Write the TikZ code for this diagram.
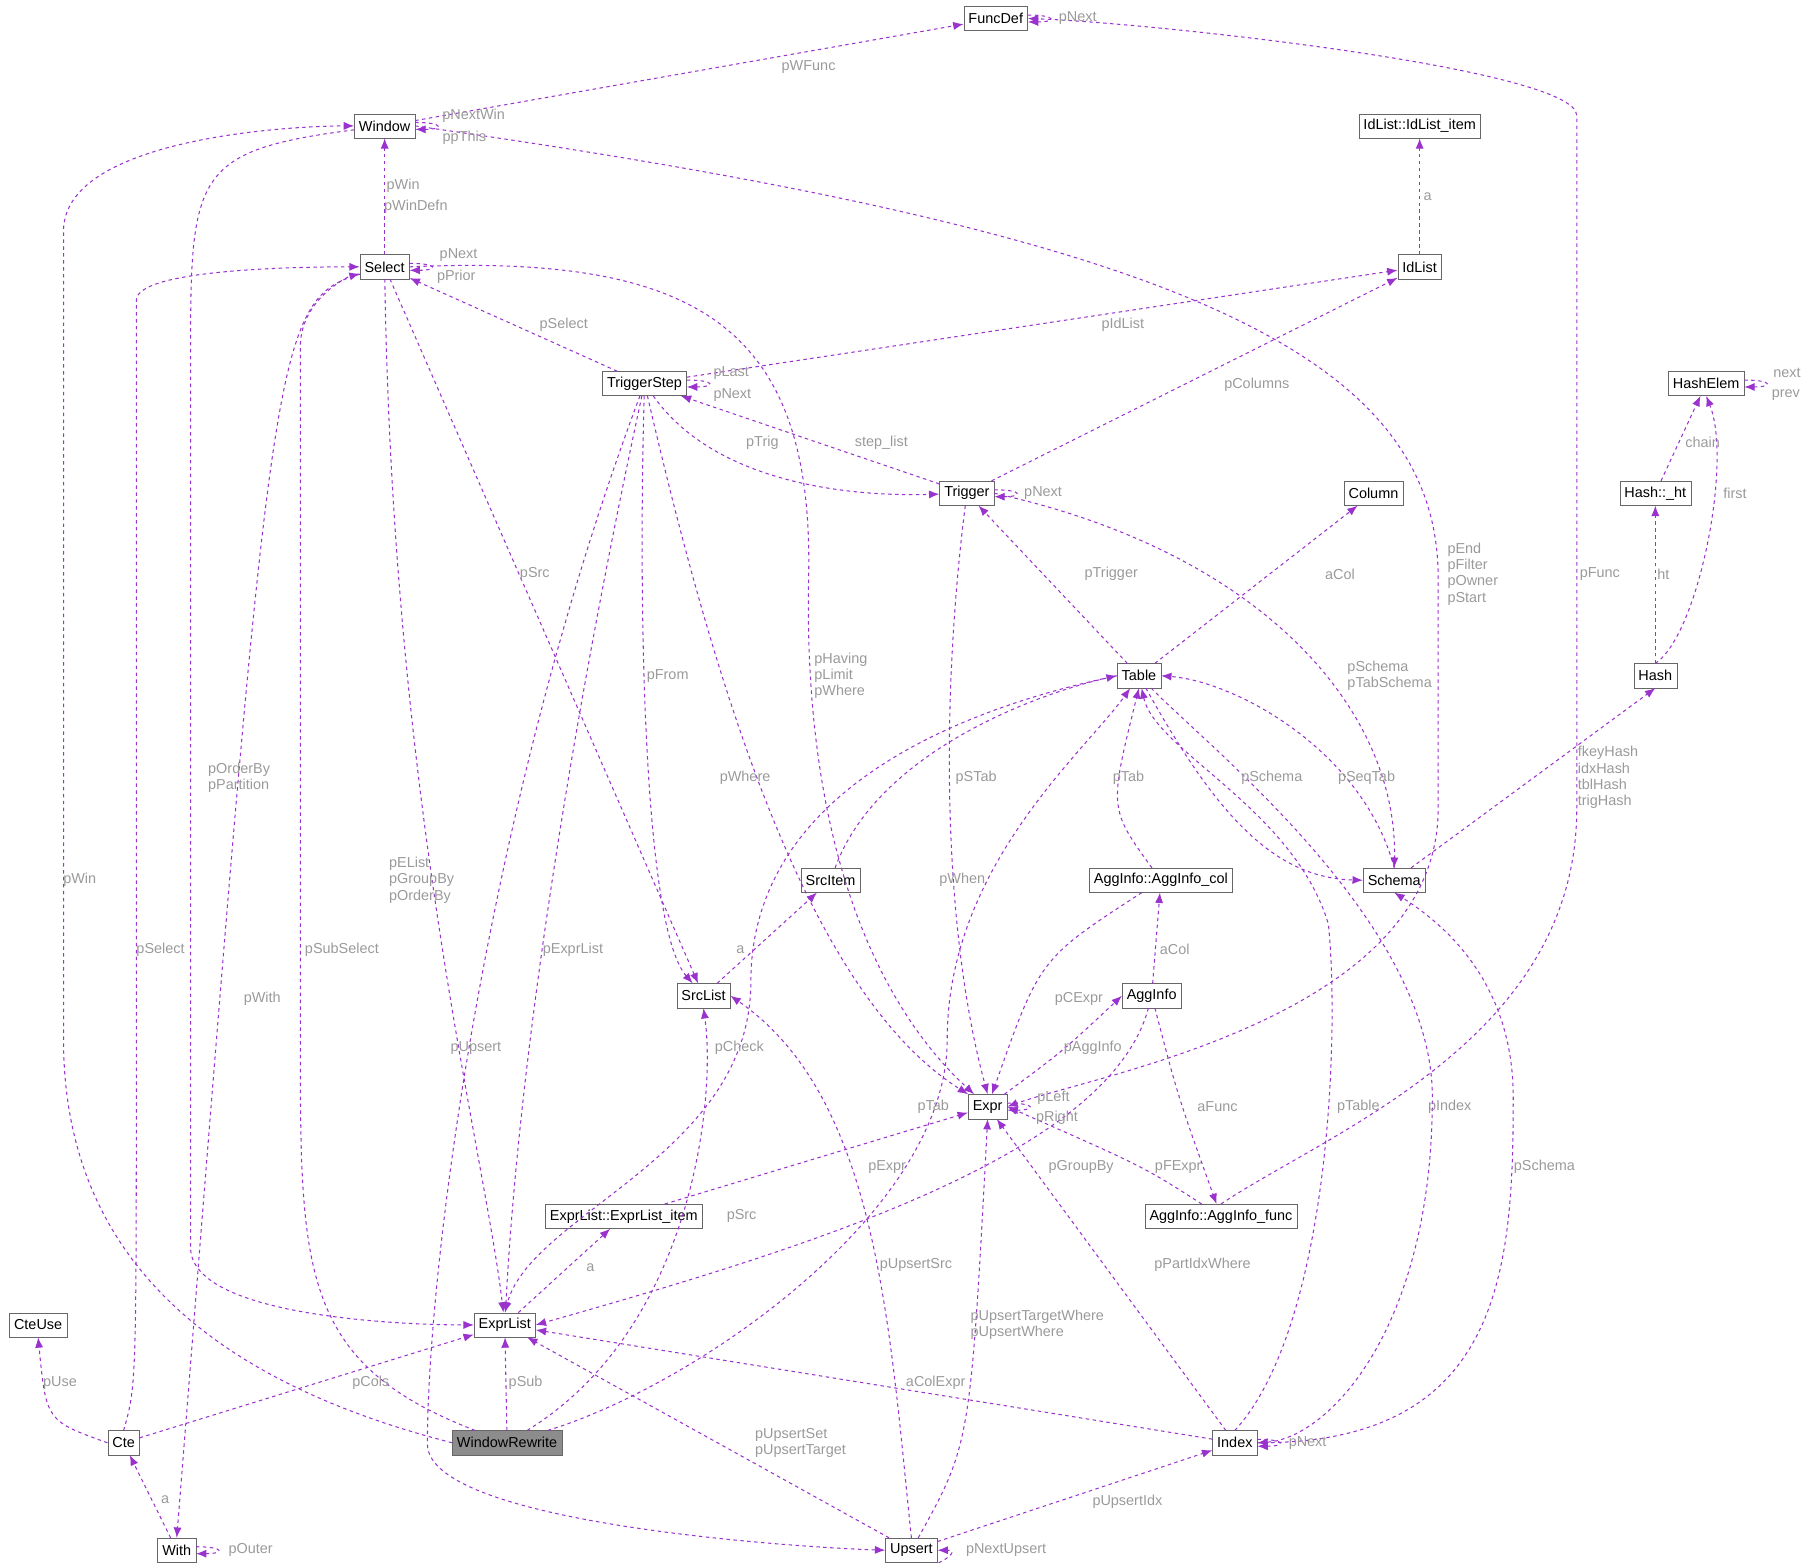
\documentclass[tikz,border=0pt]{standalone}
\usepackage{fontspec}
\setmainfont{Liberation Sans}
\usetikzlibrary{arrows.meta}
\tikzset{>={Latex[length=9pt,width=7pt]}}
\definecolor{relc}{HTML}{9A32CD}
\definecolor{lblc}{HTML}{9A9A9A}
\begin{document}
\begin{tikzpicture}[x=1pt,y=-1pt,
    every node/.style={font=\fontsize{12.5}{14}\selectfont},
    cls/.style={draw=black!60, fill=white, rectangle, inner sep=4pt, minimum height=21pt, text=black},
    rel/.style={->, dashed, relc, line width=0.9pt},
    lbl/.style={text=lblc, inner sep=1pt}]
    \useasboundingbox (0,0) rectangle (1560,1353);
    % Nodes
    \node[cls] (funcdef) at (862,16) {FuncDef};
    \node[cls] (win) at (333,109) {Window};
    \node[cls] (idlistitem) at (1229,109) {IdList::IdList\_item};
    \node[cls] (sel) at (333,231) {Select};
    \node[cls] (idlist) at (1229,231) {IdList};
    \node[cls] (tstep) at (558,332) {TriggerStep};
    \node[cls] (hashelem) at (1477,332) {HashElem};
    \node[cls] (trig) at (837,427) {Trigger};
    \node[cls] (col) at (1189,427) {Column};
    \node[cls] (htab) at (1433,427) {Hash::\_ht};
    \node[cls] (tab) at (986,585) {Table};
    \node[cls] (hash) at (1433,585) {Hash};
    \node[cls] (srcitem) at (719,762) {SrcItem};
    \node[cls] (aggcol) at (1005,762) {AggInfo::AggInfo\_col};
    \node[cls] (schema) at (1207,762) {Schema};
    \node[cls] (srclist) at (609,862) {SrcList};
    \node[cls] (agginfo) at (997,862) {AggInfo};
    \node[cls] (expr) at (855,958) {Expr};
    \node[cls] (elitem) at (540,1053) {ExprList::ExprList\_item};
    \node[cls] (aggfunc) at (1057,1053) {AggInfo::AggInfo\_func};
    \node[cls] (cteuse) at (33,1147) {CteUse};
    \node[cls] (elist) at (437,1147) {ExprList};
    \node[cls] (cte) at (107,1249) {Cte};
    \node[cls, fill=black!45] (winrw) at (439,1249) {WindowRewrite};
    \node[cls] (idx) at (1069,1249) {Index};
    \node[cls] (with) at (153,1342) {With};
    \node[cls] (upsert) at (789,1342) {Upsert};

    % Connectors
    \draw[rel] (win) -- (funcdef);
    \draw[rel] ([yshift=3pt]funcdef.east) .. controls +(25,0) and +(25,0) .. ([yshift=-3pt]funcdef.east);
    \draw[rel] ([yshift=3pt]win.east) .. controls +(25,0) and +(25,0) .. ([yshift=-3pt]win.east);
    \draw[rel] (sel) -- (win);
    \draw[rel] ([yshift=3pt]sel.east) .. controls +(25,0) and +(25,0) .. ([yshift=-3pt]sel.east);
    \draw[rel] (idlist) -- (idlistitem);
    \draw[rel] (tstep) -- (sel);
    \draw[rel] (tstep) -- (idlist);
    \draw[rel] ([yshift=3pt]tstep.east) .. controls +(25,0) and +(25,0) .. ([yshift=-3pt]tstep.east);
    \draw[rel] (tstep) .. controls (620,420) and (740,430) .. (trig);
    \draw[rel] (trig) -- (tstep);
    \draw[rel] (trig) -- (idlist);
    \draw[rel] ([yshift=3pt]trig.east) .. controls +(25,0) and +(25,0) .. ([yshift=-3pt]trig.east);
    \draw[rel] (trig.east) .. controls (1100,480) and (1210,620) .. (schema.north);
    \draw[rel] (trig) .. controls (815,600) and (815,800) .. (expr.north);
    \draw[rel] (tab) -- (trig);
    \draw[rel] (tab) -- (col);
    \draw[rel] (tab) .. controls (1050,700) and (1100,760) .. (schema.west);
    \draw[rel] (schema.north) .. controls (1180,650) and (1070,590) .. (tab.east);
    \draw[rel] (tab) .. controls (1050,650) and (1240,800) .. (1240,950) .. controls (1240,1150) and (1150,1245) .. (idx.east);
    \draw[rel] (idx.north) .. controls (1150,1150) and (1160,900) .. (1150,800) .. controls (1120,700) and (1000,650) .. (tab);
    \draw[rel] (tab.west) .. controls (800,620) and (650,700) .. (650,850) .. controls (650,1000) and (460,1050) .. (elist.north);
    \draw[rel] (srcitem) .. controls (760,650) and (900,600) .. (tab.west);
    \draw[rel] (aggcol) .. controls (960,700) .. (tab.south);
    \draw[rel] (aggcol) .. controls (900,830) .. (expr);
    \draw[rel] (agginfo) -- (aggcol);
    \draw[rel] (agginfo) .. controls (1020,950) .. (aggfunc);
    \draw[rel] (agginfo) .. controls (960,1000) and (700,1080) .. (elist.east);
    \draw[rel] (expr) .. controls (920,910) .. (agginfo.west);
    \draw[rel] ([yshift=3pt]expr.east) .. controls +(25,0) and +(25,0) .. ([yshift=-3pt]expr.east);
    \draw[rel] (win.east) .. controls (1000,200) and (1245,300) .. (1245,500) -- (1245,700) .. controls (1245,880) and (950,930) .. (expr.east);
    \draw[rel] (aggfunc.north) .. controls (1150,980) and (1365,900) .. (1365,700) -- (1365,100) .. controls (1365,60) and (1000,20) .. (funcdef.east);
    \draw[rel] (aggfunc) .. controls (990,1010) .. (expr.east);
    \draw[rel] (winrw.west) .. controls (200,1200) and (55,1100) .. (55,900) -- (55,200) .. controls (55,120) and (250,109) .. (win.west);
    \draw[rel] (win) .. controls (170,130) and (165,150) .. (165,300) -- (165,1080) .. controls (165,1140) and (350,1147) .. (elist.west);
    \draw[rel] (winrw) .. controls (260,1180) and (260,1100) .. (260,900) -- (260,300) .. controls (260,260) and (300,240) .. (sel);
    \draw[rel] (winrw) .. controls (600,1200) and (820,1050) .. (820,900) .. controls (820,750) and (940,650) .. (tab);
    \draw[rel] (winrw) .. controls (600,1150) and (620,950) .. (srclist.south);
    \draw[rel] (winrw) -- (elist);
    \draw[rel] (cte.north) .. controls (118,1200) .. (118,900) -- (118,260) .. controls (118,231) and (280,231) .. (sel.west);
    \draw[rel] (sel) .. controls (235,260) and (235,300) .. (with.north);
    \draw[rel] (sel) .. controls (340,700) and (420,1000) .. (elist);
    \draw[rel] (sel) -- (srclist);
    \draw[rel] (sel.east) .. controls (600,220) and (705,280) .. (700,500) .. controls (695,750) and (770,880) .. (expr);
    \draw[rel] (cte.west) .. controls (40,1230) .. (cteuse.south);
    \draw[rel] (cte) -- (elist);
    \draw[rel] (with) -- (cte);
    \draw[rel] ([yshift=3pt]with.east) .. controls +(25,0) and +(25,0) .. ([yshift=-3pt]with.east);
    \draw[rel] (tstep) .. controls (420,700) and (370,1100) .. (370,1250) .. controls (370,1320) and (700,1340) .. (upsert.west);
    \draw[rel] (tstep) .. controls (500,600) and (450,900) .. (elist);
    \draw[rel] (tstep) .. controls (553,500) and (555,800) .. (srclist);
    \draw[rel] (tstep) .. controls (620,600) and (700,860) .. (expr);
    \draw[rel] (srclist) -- (srcitem);
    \draw[rel] (elist) -- (elitem);
    \draw[rel] (elitem) -- (expr);
    \draw[rel] (upsert.north) .. controls (770,1150) and (760,950) .. (srclist.east);
    \draw[rel] (upsert) .. controls (840,1250) .. (expr.south);
    \draw[rel] (upsert) -- (elist);
    \draw[rel] (upsert) -- (idx);
    \draw[rel] ([xshift=8pt]upsert.south) .. controls +(0,12) and +(25,0) .. (upsert.east);
    \draw[rel] (idx) -- (elist);
    \draw[rel] (idx) -- (expr);
    \draw[rel] (idx.east) .. controls (1300,1250) and (1310,1100) .. (1310,950) .. controls (1310,850) and (1250,800) .. (schema.south);
    \draw[rel] ([yshift=3pt]idx.east) .. controls +(25,0) and +(25,0) .. ([yshift=-3pt]idx.east);
    \draw[rel] (schema) -- (hash.south);
    \draw[rel] (hash) -- (htab);
    \draw[rel] (hash.north) .. controls (1470,550) and (1500,400) .. (hashelem.south);
    \draw[rel] (htab) -- (hashelem);
    \draw[rel] ([yshift=3pt]hashelem.east) .. controls +(25,0) and +(25,0) .. ([yshift=-3pt]hashelem.east);

    % Labels
    \node[lbl] (l1) at (700,58) {pWFunc};
    \node[lbl] (l2) at (933,16) {pNext};
    \node[lbl] (l3) at (410,100) {pNextWin};
    \node[lbl] (l4) at (402,119) {ppThis};
    \node[lbl] (l5) at (349,161) {pWin};
    \node[lbl] (l6) at (360,179) {pWinDefn};
    \node[lbl] (l7) at (397,221) {pNext};
    \node[lbl] (l8) at (395,240) {pPrior};
    \node[lbl] (l9) at (1236,170) {a};
    \node[lbl] (l10) at (488,281) {pSelect};
    \node[lbl] (l11) at (972,281) {pIdList};
    \node[lbl] (l12) at (633,323) {pLast};
    \node[lbl] (l13) at (634,342) {pNext};
    \node[lbl] (l14) at (1088,333) {pColumns};
    \node[lbl] (l15) at (660,383) {pTrig};
    \node[lbl] (l16) at (763,383) {step\_list};
    \node[lbl] (l17) at (903,427) {pNext};
    \node[lbl] (l18) at (962,497) {pTrigger};
    \node[lbl] (l19) at (1160,497) {aCol};
    \node[lbl, align=left] (l20) at (1275,497) {pEnd\\pFilter\\pOwner\\pStart};
    \node[lbl, align=left] (l21) at (1203,585) {pSchema\\pTabSchema};
    \node[lbl] (l22) at (463,497) {pSrc};
    \node[lbl] (l23) at (578,585) {pFrom};
    \node[lbl, align=left] (l24) at (728,585) {pHaving\\pLimit\\pWhere};
    \node[lbl, align=left] (l25) at (207,673) {pOrderBy\\pPartition};
    \node[lbl] (l26) at (69,762) {pWin};
    \node[lbl] (l27) at (845,673) {pSTab};
    \node[lbl] (l28) at (977,673) {pTab};
    \node[lbl] (l29) at (1101,673) {pSchema};
    \node[lbl] (l30) at (1183,673) {pSeqTab};
    \node[lbl, align=left] (l31) at (1392,673) {fkeyHash\\idxHash\\tblHash\\trigHash};
    \node[lbl] (l32) at (645,673) {pWhere};
    \node[lbl] (l33) at (833,762) {pWhen};
    \node[lbl, align=left] (l34) at (365,762) {pEList\\pGroupBy\\pOrderBy};
    \node[lbl] (l35) at (139,822) {pSelect};
    \node[lbl] (l36) at (296,822) {pSubSelect};
    \node[lbl] (l37) at (496,822) {pExprList};
    \node[lbl] (l38) at (641,822) {a};
    \node[lbl] (l39) at (1017,822) {aCol};
    \node[lbl] (l40) at (227,865) {pWith};
    \node[lbl] (l41) at (412,907) {pUpsert};
    \node[lbl] (l42) at (640,907) {pCheck};
    \node[lbl] (l43) at (934,865) {pCExpr};
    \node[lbl] (l44) at (946,907) {pAggInfo};
    \node[lbl] (l45) at (912,950) {pLeft};
    \node[lbl] (l46) at (915,968) {pRight};
    \node[lbl] (l47) at (808,958) {pTab};
    \node[lbl] (l48) at (1054,958) {aFunc};
    \node[lbl] (l49) at (1176,958) {pTable};
    \node[lbl] (l50) at (1255,958) {pIndex};
    \node[lbl] (l51) at (1337,1010) {pSchema};
    \node[lbl] (l52) at (768,1010) {pExpr};
    \node[lbl] (l53) at (936,1010) {pGroupBy};
    \node[lbl] (l54) at (1020,1010) {pFExpr};
    \node[lbl] (l55) at (1385,497) {pFunc};
    \node[lbl] (l56) at (642,1053) {pSrc};
    \node[lbl] (l57) at (1041,1095) {pPartIdxWhere};
    \node[lbl] (l58) at (793,1095) {pUpsertSrc};
    \node[lbl] (l59) at (511,1097) {a};
    \node[lbl, align=left] (l60) at (898,1147) {pUpsertTargetWhere\\pUpsertWhere};
    \node[lbl] (l61) at (52,1197) {pUse};
    \node[lbl] (l62) at (321,1197) {pCols};
    \node[lbl] (l63) at (455,1197) {pSub};
    \node[lbl] (l64) at (810,1197) {aColExpr};
    \node[lbl, align=left] (l65) at (693,1249) {pUpsertSet\\pUpsertTarget};
    \node[lbl] (l66) at (1132,1249) {pNext};
    \node[lbl] (l67) at (143,1298) {a};
    \node[lbl] (l68) at (976,1300) {pUpsertIdx};
    \node[lbl] (l69) at (217,1342) {pOuter};
    \node[lbl] (l70) at (871,1342) {pNextUpsert};
    \node[lbl] (l71) at (1502,427) {first};
    \node[lbl] (l72) at (1440,497) {ht};
    \node[lbl] (l73) at (1474,383) {chain};
    \node[lbl] (l74) at (1547,323) {next};
    \node[lbl] (l75) at (1546,342) {prev};
\end{tikzpicture}
\end{document}
